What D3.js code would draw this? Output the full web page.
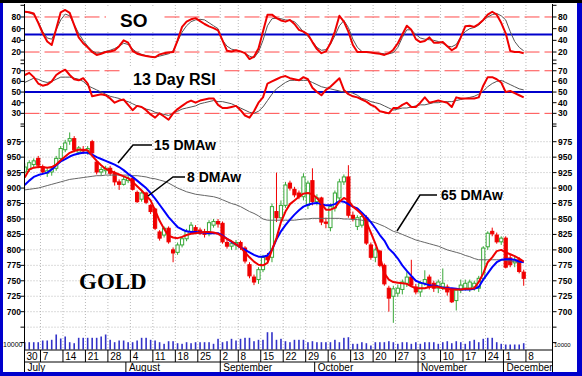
<!DOCTYPE html>
<meta charset="utf-8">
<style>
    body { margin: 0; background: #fff; }
    svg { display: block; }
    .grid { stroke: #b8b8b8; stroke-width: 1; stroke-dasharray: 1,2; }
    .axis { stroke: #000; stroke-width: 1; }
    .tick-label { font-size: 8.5px; font-weight: bold; fill: #000; }
</style>
<svg width="582" height="376" font-family="'Liberation Sans', Arial, sans-serif"></svg>
<script src="https://d3js.org/d3.v7.min.js"></script>
<script>
    // trading days per week, from the week of June 30
    var weekDays = [4, 5, 5, 5, 5, 5, 5, 5, 5, 4, 5, 5, 5, 5, 5, 5, 5, 5, 5, 5, 5, 4, 5];
    var weekLabels = ["30", "7", "14", "21", "28", "4", "11", "18", "25", "2", "8", "15", "22", "29",
        "6", "13", "20", "27", "3", "10", "17", "24", "1", "8"];
    var months = ["July", "August", "September", "October", "November", "December"];
    var monthStart = [0, 23, 44, 65, 88, 107];

    // open, high, low, close
    var ohlc = [
        [926, 940, 922, 934], [930, 945, 926, 941], [938, 948, 934, 944], [948, 952, 932, 937], [934, 938, 922, 926],
        [924, 932, 918, 928], [926, 934, 920, 931], [932, 952, 928, 948], [948, 968, 944, 964], [962, 978, 958, 973],
        [976, 990, 970, 980], [980, 984, 958, 962], [958, 968, 954, 965], [962, 968, 955, 960], [960, 968, 954, 964],
        [975, 978, 955, 957], [942, 946, 922, 926], [926, 934, 920, 930], [928, 936, 922, 932], [932, 936, 920, 924],
        [924, 928, 904, 910], [910, 914, 897, 906], [906, 918, 904, 914], [912, 920, 908, 916], [916, 918, 896, 898],
        [893, 896, 876, 878], [882, 895, 878, 892], [892, 894, 874, 877], [872, 874, 858, 862], [866, 868, 832, 835],
        [829, 832, 815, 819], [824, 838, 820, 835], [835, 838, 810, 813], [800, 804, 780, 795], [796, 812, 792, 808],
        [808, 822, 804, 818], [818, 834, 814, 830], [830, 845, 826, 840], [836, 840, 826, 830], [832, 836, 824, 827],
        [827, 834, 820, 825], [826, 848, 822, 844], [840, 850, 836, 846], [846, 850, 836, 842], [843, 846, 810, 813],
        [812, 818, 802, 806], [806, 814, 800, 810], [808, 816, 800, 812], [812, 815, 800, 804], [803, 806, 778, 782],
        [776, 780, 754, 758], [756, 760, 743, 748], [752, 772, 745, 768], [768, 792, 764, 788], [790, 795, 780, 784],
        [788, 875, 780, 870], [862, 925, 845, 852], [852, 880, 848, 872], [872, 910, 868, 905], [908, 912, 896, 900],
        [898, 902, 885, 889], [892, 896, 882, 886], [886, 924, 880, 918], [872, 912, 866, 908], [912, 932, 872, 878],
        [878, 890, 872, 884], [884, 886, 840, 845], [845, 852, 835, 843], [836, 875, 830, 870], [868, 896, 862, 892],
        [884, 915, 880, 910], [910, 922, 905, 918], [918, 937, 852, 856], [856, 862, 846, 851], [838, 856, 832, 852],
        [840, 858, 836, 854], [852, 856, 808, 811], [808, 812, 784, 788], [788, 804, 780, 800], [798, 800, 772, 775],
        [775, 778, 742, 745], [738, 742, 700, 722], [725, 742, 682, 737], [730, 744, 724, 738], [736, 752, 728, 748],
        [746, 764, 740, 756], [756, 784, 740, 743], [740, 745, 728, 732], [732, 750, 724, 746], [746, 767, 742, 752],
        [756, 760, 736, 740], [746, 750, 732, 738], [738, 752, 730, 748], [740, 770, 735, 746], [740, 744, 726, 732],
        [735, 738, 714, 716], [718, 738, 702, 735], [735, 752, 730, 743], [738, 752, 734, 746], [738, 752, 732, 748],
        [740, 750, 734, 746], [738, 758, 732, 754], [754, 806, 750, 803], [805, 830, 800, 827], [830, 836, 822, 826],
        [824, 828, 810, 813], [813, 822, 808, 819], [819, 822, 770, 772], [787, 792, 772, 776], [779, 790, 772, 784],
        [784, 788, 762, 765], [764, 768, 742, 754]
    ];

    var ma8 = [917, 930, 933, 934, 934, 933, 934, 938, 945, 951, 957, 960, 962, 962, 961, 952, 944, 937, 931, 928,
        925, 922, 919, 916, 910, 903, 896, 888, 880, 864, 847, 834, 823, 820, 819, 821, 824, 826, 827, 828,
        829, 829, 828, 826, 822, 818, 814, 809, 804, 796, 788, 781, 776, 775, 779, 800, 819, 845, 862, 874,
        880, 886, 891, 892, 890, 884, 875, 865, 865, 868, 878, 884, 880, 870, 864, 857, 845, 828, 810, 790,
        762, 752, 748, 747, 746, 745, 741, 738, 738, 738, 740, 741, 740, 738, 737, 736, 736, 736, 737, 737,
        738, 748, 762, 780, 788, 798, 800, 796, 793, 790, 786, 781];
    var ma15 = [905, 912, 918, 921, 923, 925, 930, 937, 943, 947, 951, 954, 956, 957, 957, 954, 950, 947, 944, 941,
        938, 934, 929, 923, 918, 912, 906, 900, 892, 883, 873, 863, 853, 845, 837, 833, 830, 829, 829, 828,
        828, 827, 827, 827, 823, 818, 813, 809, 804, 800, 796, 792, 789, 789, 791, 800, 817, 830, 840, 849,
        857, 864, 870, 873, 875, 876, 874, 872, 872, 874, 879, 878, 874, 870, 867, 860, 853, 845, 835, 824,
        815, 802, 795, 786, 775, 766, 758, 750, 747, 745, 743, 742, 741, 739, 738, 738, 737, 736, 736, 736,
        737, 740, 752, 762, 772, 780, 784, 785, 785, 784, 781, 780];
    var ma65 = [897, 898, 899, 900, 902, 904, 906, 908, 910, 912, 914, 915, 916, 917, 918, 919, 920, 920, 921, 921,
        921, 921, 921, 921, 920, 920, 919, 918, 916, 915, 913, 911, 908, 904, 900, 897, 894, 892, 890, 889,
        888, 887, 886, 884, 881, 878, 875, 873, 870, 866, 862, 859, 855, 850, 848, 848, 848, 848, 848, 848,
        848, 849, 850, 850, 851, 851, 851, 851, 851, 851, 851, 850, 850, 849, 849, 848, 847, 846, 844, 841,
        838, 834, 830, 828, 825, 822, 819, 816, 814, 812, 810, 808, 806, 803, 800, 798, 796, 794, 791, 789,
        786, 784, 784, 784, 784, 784, 784, 783, 782, 781, 780, 780];

    var soK = [89, 88, 86, 70, 52, 38, 32, 60, 88, 92, 87, 66, 45, 35, 28, 20, 15, 17, 20, 21,
        23, 30, 40, 36, 22, 17, 15, 13, 12, 11, 16, 18, 19, 20, 40, 63, 72, 76, 78, 73,
        68, 64, 61, 57, 40, 22, 21, 23, 21, 18, 8, 12, 26, 55, 84, 84, 78, 74, 72, 75,
        68, 58, 55, 50, 37, 25, 18, 21, 35, 55, 82, 72, 55, 32, 20, 20, 20, 19, 18, 17,
        15, 18, 24, 35, 50, 65, 58, 42, 37, 39, 45, 36, 36, 37, 30, 23, 28, 45, 64, 65,
        63, 68, 75, 84, 89, 84, 70, 52, 22, 20, 20, 18];
    var soD = [89, 87, 84, 72, 55, 44, 42, 58, 75, 85, 82, 67, 52, 40, 30, 22, 18, 19, 21, 23,
        26, 30, 35, 33, 25, 19, 16, 14, 12, 11, 13, 15, 17, 22, 38, 54, 65, 72, 75, 76,
        75, 70, 65, 60, 40, 30, 25, 23, 21, 18, 13, 10, 20, 40, 65, 77, 78, 77, 75, 74,
        72, 64, 54, 47, 38, 28, 23, 24, 33, 48, 65, 74, 62, 42, 28, 21, 20, 19, 18, 18,
        17, 17, 19, 28, 45, 58, 58, 50, 44, 42, 41, 40, 38, 35, 30, 29, 33, 46, 55, 60,
        62, 66, 74, 80, 84, 86, 82, 75, 55, 38, 28, 22];

    var rsi = [66, 68, 64, 58, 56, 57, 60, 66, 69, 71, 66, 62, 61, 63, 58, 46, 47, 48, 47, 44,
        40, 42, 43, 38, 33, 37, 36, 33, 29, 26, 30, 27, 24, 30, 34, 37, 40, 42, 40, 42,
        43, 44, 44, 38, 35, 35, 36, 37, 33, 28, 26, 32, 40, 45, 58, 60, 62, 64, 65, 63,
        62, 61, 64, 62, 54, 50, 47, 52, 55, 59, 63, 52, 48, 46, 45, 43, 41, 38, 36, 32,
        31, 30, 35, 35, 38, 40, 36, 36, 40, 45, 40, 41, 42, 41, 40, 36, 45, 44, 44, 44,
        44, 45, 56, 64, 64, 62, 59, 50, 51, 49, 47, 45];
    var rsiAvg = [59, 61, 63, 62, 60, 59, 60, 62, 64, 64, 64, 63, 62, 60, 56, 54, 52, 50, 48, 46,
        45, 44, 42, 41, 39, 37, 36, 34, 33, 31, 30, 29, 28, 30, 32, 34, 35, 36, 37, 39,
        40, 41, 42, 41, 41, 40, 39, 37, 35, 33, 31, 30, 32, 36, 42, 48, 53, 56, 59, 61,
        61, 61, 61, 61, 59, 57, 55, 54, 53, 52, 51, 50, 50, 49, 47, 44, 43, 41, 40, 39,
        37, 35, 33, 34, 35, 35, 36, 37, 38, 38, 39, 40, 40, 41, 41, 41, 42, 43, 44, 45,
        46, 48, 51, 55, 58, 60, 61, 59, 57, 55, 53, 52];

    var volume = [73, 73, 73, 73, 90, 90, 97, 150, 110, 130, 73, 63, 117, 117, 117, 117, 117, 130, 150, 97,
        73, 90, 90, 73, 73, 90, 117, 117, 97, 90, 73, 57, 83, 83, 63, 57, 73,
        63, 73, 73, 73, 73, 57, 107, 73, 83, 107, 90, 107, 117, 117, 83, 97, 97, 173, 173, 97,
        107, 83, 73, 97, 97, 97, 73, 83, 73, 73, 73, 73, 97, 73, 117, 123, 57, 57, 73, 63, 40, 73, 73, 73, 83,
        73, 57, 73, 73, 57, 73, 57, 73, 73, 73, 57, 73, 83, 63, 83, 73, 57, 83, 97, 73,
        107, 117, 117, 73, 57, 50, 50, 50, 50, 63];

    var priceTicks = [975, 950, 925, 900, 875, 850, 825, 800, 775, 750, 725, 700];
    var soTicks = [80, 60, 40, 20];
    var rsiTicks = [70, 60, 50, 40, 30];

    var svg = d3.select("svg"),
        left = 24.5,
        right = 552.5;

    var x = d3.scaleLinear().domain([0, 112]).range([24.75, 24.75 + 112 * 4.495]);
    var ySo = d3.scaleLinear().domain([0, 100]).range([63.7, 5.3]);
    var yRsi = d3.scaleLinear().domain([20, 80]).range([124, 60.1]);
    var yP = d3.scaleLinear().domain([700, 975]).range([311.7, 141.7]);
    var yV = d3.scaleLinear().domain([0, 200]).range([349.5, 329.5]);

    var weekStart = [0];
    weekDays.forEach(function (d) { weekStart.push(weekStart[weekStart.length - 1] + d); });

    svg.append("defs").append("clipPath").attr("id", "plot")
        .append("rect").attr("x", 25).attr("y", 4).attr("width", 527).attr("height", 346);

    // grid
    var grid = svg.append("g");
    grid.selectAll(".gv").data(weekStart.slice(1)).enter().append("line")
        .attr("class", "grid")
        .attr("x1", function (d) { return x(d) - 2.25; })
        .attr("x2", function (d) { return x(d) - 2.25; })
        .attr("y1", 5).attr("y2", 350);
    grid.selectAll(".gh").data(priceTicks.concat([675])).enter().append("line")
        .attr("class", "grid")
        .attr("x1", left).attr("x2", right)
        .attr("y1", yP).attr("y2", yP);

    // reference levels
    var ref = svg.append("g");
    [[ySo, 80], [ySo, 20], [yRsi, 70], [yRsi, 30]].forEach(function (r) {
        ref.append("line").attr("x1", left).attr("x2", right)
            .attr("y1", r[0](r[1])).attr("y2", r[0](r[1]))
            .attr("stroke", "#ff4a4a").attr("stroke-dasharray", "15,5");
    });
    [[ySo, 50], [yRsi, 50]].forEach(function (r) {
        ref.append("line").attr("x1", left).attr("x2", right)
            .attr("y1", r[0](r[1])).attr("y2", r[0](r[1]))
            .attr("stroke", "#0000cc").attr("stroke-width", 2);
    });

    // title boxes
    svg.append("rect").attr("x", 106).attr("y", 7).attr("width", 54).attr("height", 23).attr("fill", "#fff");
    svg.append("rect").attr("x", 123).attr("y", 66).attr("width", 100).attr("height", 22).attr("fill", "#fff");
    svg.append("text").attr("x", 120).attr("y", 27).attr("font-size", 19).attr("font-weight", "bold").text("SO");
    svg.append("text").attr("x", 133).attr("y", 85).attr("font-size", 16).attr("font-weight", "bold").text("13 Day RSI");
    svg.append("text").attr("x", 79).attr("y", 289).attr("font-size", 23).attr("font-weight", "bold")
        .attr("font-family", "'Liberation Serif', 'Times New Roman', serif").text("GOLD");

    var plot = svg.append("g").attr("clip-path", "url(#plot)");

    // volume
    plot.append("g").selectAll("rect").data(volume).enter().append("rect")
        .attr("x", function (d, i) { return x(i) - 0.8; })
        .attr("width", 1.6)
        .attr("y", yV)
        .attr("height", function (d) { return yV(0) - yV(d); })
        .attr("fill", "#3232c8");

    // candles
    var green = "#38a838", red = "#f00000";
    var candle = plot.append("g").selectAll("g").data(ohlc).enter().append("g");
    candle.append("line")
        .attr("x1", function (d, i) { return x(i); })
        .attr("x2", function (d, i) { return x(i); })
        .attr("y1", function (d) { return yP(d[1]); })
        .attr("y2", function (d) { return yP(d[2]); })
        .attr("stroke", function (d) { return d[3] >= d[0] ? green : red; });
    candle.append("rect")
        .attr("x", function (d, i) { return x(i) - 1.6; })
        .attr("width", 3.2)
        .attr("y", function (d) { return yP(Math.max(d[0], d[3])); })
        .attr("height", function (d) { return Math.max(1, Math.abs(yP(d[0]) - yP(d[3]))); })
        .attr("fill", function (d) { return d[3] >= d[0] ? "#fff" : red; })
        .attr("stroke", function (d) { return d[3] >= d[0] ? green : red; })
        .attr("stroke-width", 1);

    function drawLine(values, y, color, width) {
        plot.append("path")
            .attr("d", d3.line().x(function (d, i) { return x(i); }).y(function (d) { return y(d); })(values))
            .attr("fill", "none")
            .attr("stroke", color)
            .attr("stroke-width", width)
            .attr("stroke-linejoin", "round");
    }
    drawLine(ma65, yP, "#666", 1);
    drawLine(ma15, yP, "#0000ff", 2);
    drawLine(ma8, yP, "#f00000", 2);
    drawLine(soD, ySo, "#555", 1);
    drawLine(soK, ySo, "#f00000", 2);
    drawLine(rsiAvg, yRsi, "#555", 1);
    drawLine(rsi, yRsi, "#f00000", 2);

    // leader lines and MA labels
    var leaders = svg.append("g").attr("fill", "none").attr("stroke", "#000").attr("stroke-width", 1.5);
    leaders.append("path").attr("d", "M152,145L133,145L118,163");
    leaders.append("path").attr("d", "M185,177L173,177L148,196");
    leaders.append("path").attr("d", "M437,195L420,195L397,231");
    svg.append("text").attr("x", 154).attr("y", 150).attr("font-size", 14).attr("font-weight", "bold").text("15 DMAw");
    svg.append("text").attr("x", 187).attr("y", 182).attr("font-size", 14).attr("font-weight", "bold").text("8 DMAw");
    svg.append("text").attr("x", 441).attr("y", 200).attr("font-size", 14).attr("font-weight", "bold").text("65 DMAw");

    // axes
    var axes = svg.append("g");
    axes.append("line").attr("class", "axis").attr("x1", left).attr("x2", left).attr("y1", 4).attr("y2", 372);
    axes.append("line").attr("class", "axis").attr("x1", right).attr("x2", right).attr("y1", 4).attr("y2", 372);

    function ticks(values, y, labelled, size) {
        values.forEach(function (v) {
            axes.append("line").attr("class", "axis").attr("x1", left - 4).attr("x2", left).attr("y1", y(v)).attr("y2", y(v));
            axes.append("line").attr("class", "axis").attr("x1", right).attr("x2", right + 4).attr("y1", y(v)).attr("y2", y(v));
            if (labelled.indexOf(v) < 0) return;
            axes.append("text").attr("class", "tick-label").attr("x", 21).attr("y", y(v)).attr("dy", "0.35em")
                .attr("text-anchor", "end").attr("font-size", size[0]).text(v);
            axes.append("text").attr("class", "tick-label").attr("x", 558).attr("y", y(v)).attr("dy", "0.35em")
                .attr("font-size", size[1]).text(v);
        });
    }
    ticks([100, 80, 60, 40, 20, 0], ySo, soTicks, [8.5, 8.5]);
    ticks([80, 70, 60, 50, 40, 30, 20], yRsi, rsiTicks, [11.5, 10.5]);
    ticks([1000].concat(priceTicks, [675, 650]), yP, priceTicks, [8.5, 8.5]);

    axes.append("text").attr("x", 3).attr("y", 347).attr("font-size", 7).text("10000");
    axes.append("text").attr("x", 554).attr("y", 347).attr("font-size", 6).text("10000");

    // date band
    axes.append("line").attr("class", "axis").attr("x1", left).attr("x2", right).attr("y1", 350).attr("y2", 350);
    axes.append("line").attr("class", "axis").attr("x1", left).attr("x2", right).attr("y1", 362).attr("y2", 362);
    weekStart.forEach(function (d, i) {
        var xx = x(d) - 2.25;
        if (i > 0) axes.append("line").attr("class", "axis").attr("x1", xx).attr("x2", xx).attr("y1", 350).attr("y2", 362);
        axes.append("text").attr("x", Math.max(x(d), 26.5)).attr("y", 360).attr("font-size", 10).text(weekLabels[i]);
    });
    monthStart.forEach(function (d, i) {
        var xx = Math.max(x(d) - 2.25, left);
        axes.append("line").attr("class", "axis").attr("x1", xx).attr("x2", xx).attr("y1", 362).attr("y2", 372);
        axes.append("text").attr("x", xx + 3).attr("y", 370.5).attr("font-size", 10).text(months[i]);
    });

    // frame
    svg.append("rect").attr("x", 1.5).attr("y", 1.5).attr("width", 579).attr("height", 373)
        .attr("fill", "none").attr("stroke", "#0000cc").attr("stroke-width", 3);
    svg.append("rect").attr("x", 577).attr("y", 0).attr("width", 5).attr("height", 376).attr("fill", "#0000cc");
    svg.append("rect").attr("x", 0).attr("y", 372).attr("width", 582).attr("height", 4).attr("fill", "#0000cc");
    svg.append("rect").attr("x", 0).attr("y", 0).attr("width", 582).attr("height", 3).attr("fill", "#000");
</script>
